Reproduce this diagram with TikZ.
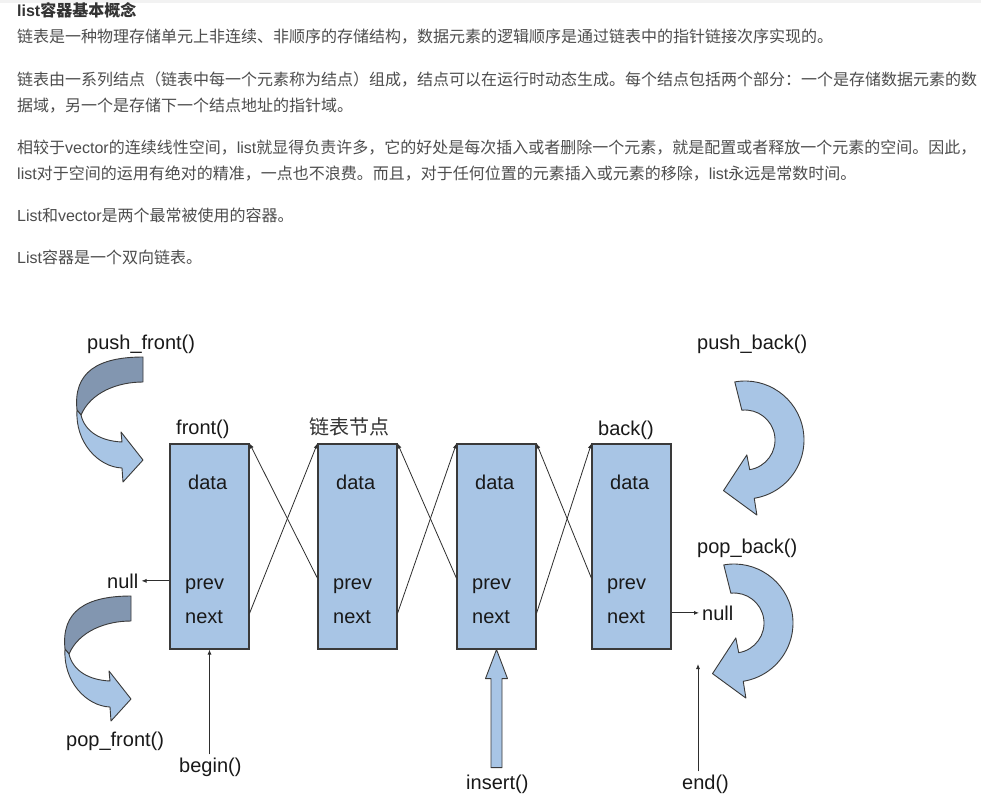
\documentclass[tikz,border=0pt]{standalone}
\usepackage{fontspec}
\setmainfont{Liberation Sans}
\newfontfamily\cjk{Noto Sans CJK SC}
\newfontfamily\lat{Liberation Sans}
\usetikzlibrary{arrows.meta,calc}

\definecolor{boxblue}{HTML}{A8C5E5}
\definecolor{ribbondark}{HTML}{8296B0}
\definecolor{edgegray}{HTML}{3A3A3A}
\definecolor{linegray}{HTML}{2E2E2E}
\definecolor{bodygray}{HTML}{4D4D4D}
\definecolor{titlegray}{HTML}{333333}

\begin{document}
\begin{tikzpicture}[x=1pt, y=-1pt,
  para/.style={font=\cjk\fontsize{16}{20}\selectfont, text=bodygray, anchor=base west, inner sep=0pt},
  lbl/.style={font=\fontsize{20}{24}\selectfont, text=black!90, anchor=base west, inner sep=3pt},
  row/.style={font=\fontsize{20}{24}\selectfont, text=black!90, anchor=base west, inner sep=0pt},
  box/.style={draw=edgegray, line width=1.1pt, fill=boxblue, minimum width=79pt, minimum height=205pt, inner sep=0pt},
  link/.style={draw=linegray, line width=0.8pt, -{Latex[length=5pt,width=4pt]}},
  curl/.style={draw=edgegray, line width=0.9pt, line join=round},
  frontcurl/.pic={
    \draw[curl, fill=ribbondark] (0,0) -- (0,25) .. controls (-25,25) and (-52,35) .. (-62,58)
      -- (-66,53) .. controls (-70,15) and (-45,0) .. (0,0) -- cycle;
    \draw[curl, fill=boxblue] (-66,53) .. controls (-68,85) and (-45,110) .. (-21,111)
      -- (-20,125) -- (0,103) -- (-22,75) -- (-21,85) .. controls (-42,84) and (-58,75) .. (-62,58) -- cycle;
  },
  backcurl/.pic={
    \draw[curl, fill=boxblue] (-100:59) arc[start angle=-100, end angle=81, radius=59]
      -- (81:76) -- (113:55) -- (83:15) -- (81:30) arc[start angle=81, end angle=-96, radius=30] -- cycle;
  }]
  \fill[white] (0,0) rectangle (981,807);
  \useasboundingbox (0,0) rectangle (981,807);
  \fill[black!5] (0,0) rectangle (981,3);

  % text above the diagram
  \node[para, font=\cjk\bfseries\fontsize{16}{20}\selectfont, text=titlegray] (title) at (17,16.5) {{\lat list}容器基本概念};
  \node[para] (l1) at (17,42) {链表是一种物理存储单元上非连续、非顺序的存储结构，数据元素的逻辑顺序是通过链表中的指针链接次序实现的。};
  \node[para] (l2) at (17,85) {链表由一系列结点（链表中每一个元素称为结点）组成，结点可以在运行时动态生成。每个结点包括两个部分：一个是存储数据元素的数};
  \node[para] (l3) at (17,111) {据域，另一个是存储下一个结点地址的指针域。};
  \node[para] (l4) at (17,153) {相较于{\lat vector}的连续线性空间，{\lat list}就显得负责许多，它的好处是每次插入或者删除一个元素，就是配置或者释放一个元素的空间。因此，};
  \node[para] (l5) at (17,179) {{\lat list}对于空间的运用有绝对的精准，一点也不浪费。而且，对于任何位置的元素插入或元素的移除，{\lat list}永远是常数时间。};
  \node[para] (l6) at (17,221) {{\lat List}和{\lat vector}是两个最常被使用的容器。};
  \node[para] (l7) at (17,263) {{\lat List}容器是一个双向链表。};

  % list nodes
  \foreach \i/\x in {1/170,2/318,3/457,4/592} {
    \node[box] (n\i) at (\x+39.5,546.5) {};
    \node[row] (d\i) at (\x+18,489) {data};
    \node[row] (p\i) at (\x+15,589) {prev};
    \node[row] (x\i) at (\x+15,623) {next};
  }

  % labels
  \node[lbl] (pushf) at (84,349) {push\_front()};
  \node[lbl] (pushb) at (694,349) {push\_back()};
  \node[lbl] (popb) at (694,553) {pop\_back()};
  \node[lbl] (popf) at (63,746) {pop\_front()};
  \node[lbl] (front) at (173,434) {front()};
  \node[lbl, font=\cjk\fontsize{20}{24}\selectfont, text=black!80] (nodelbl) at (306,434) {链表节点};
  \node[lbl] (back) at (595,435) {back()};
  \node[lbl] (nullL) at (104,588) {null};
  \node[lbl] (nullR) at (699,620) {null};
  \node[lbl] (bgn) at (176,772) {begin()};
  \node[lbl] (ins) at (463,789) {insert()};
  \node[lbl] (endn) at (679,789) {end()};
  \coordinate (endtop) at (698,664);

  % next / prev pointers
  \foreach \i/\j in {1/2,2/3,3/4} {
    \draw[link] ($(n\i.north east)!.824!(n\i.south east)$) -- (n\j.north west);
    \draw[link] ($(n\j.north west)!.654!(n\j.south west)$) -- (n\i.north east);
  }
  \draw[link] (nullL -| n1.west) -- (nullL.east);
  \draw[link] (nullR -| n4.east) -- (nullR.west);
  \draw[link] (bgn.north -| n1.south) -- (n1.south);
  \draw[link] (endn.north -| endtop) -- (endtop);

  % insert arrow
  \draw[curl, fill=boxblue] (n3.south) -- ++(11,29) -- ++(-5.5,0) -- ++(0,89) -- ++(-11,0) -- ++(0,-89) -- ++(-5.5,0) -- cycle;

  % curled arrows
  \pic at (143,357) {frontcurl};
  \pic at (131,596) {frontcurl};
  \pic at (745,440) {backcurl};
  \pic at (734,623) {backcurl};
\end{tikzpicture}
\end{document}
